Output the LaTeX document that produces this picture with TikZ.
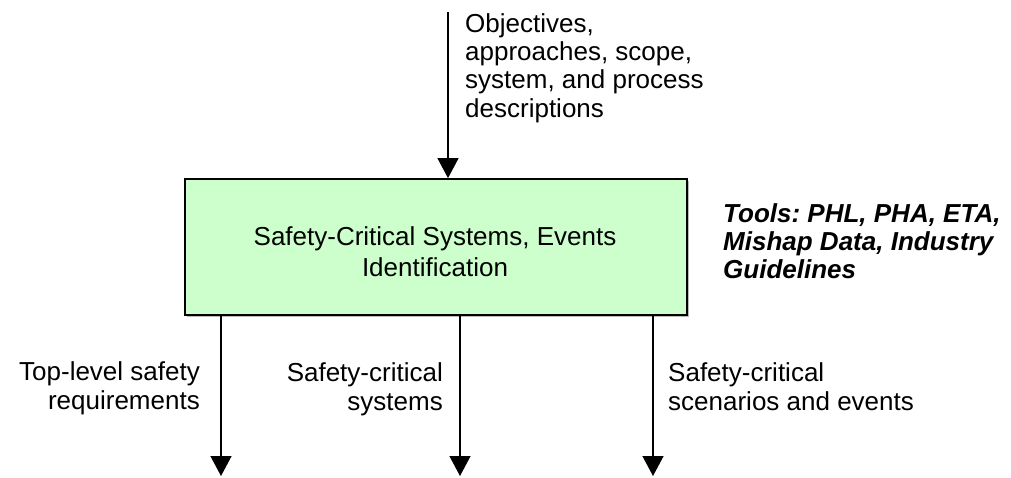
\documentclass[tikz,border=0pt]{standalone}
\usepackage{fontspec}
\setmainfont{Liberation Sans}
\frenchspacing
\usetikzlibrary{arrows.meta}
\definecolor{boxgreen}{HTML}{CCFFCC}
\tikzset{
  lbl/.style={inner sep=0pt, font=\fontsize{26}{28.3}\selectfont\frenchspacing},
  flowarrow/.style={line width=1.3pt, -{Triangle[width=21pt,length=20pt]}},
  procbox/.style={draw=black, line width=1.8pt, fill=boxgreen, minimum width=502pt, minimum height=136pt, inner sep=0pt}
}
\begin{document}
\begin{tikzpicture}[x=1pt,y=-1pt]
\useasboundingbox (0,0) rectangle (1011,477);
% shadow
\fill[gray!55] (187,181) rectangle (689,317);
\node[procbox] (box) at (436,247) {};
\node[lbl, anchor=base, align=center, font=\fontsize{26}{31}\selectfont\frenchspacing] (boxlab) at (435,276) {Safety-Critical Systems, Events\\Identification};
% input
\coordinate (in) at (448,12);
\draw[flowarrow] (in) -- (in |- box.north);
\node[lbl, anchor=base west, align=left] (inlab) at (465,117) {Objectives,\\approaches, scope,\\system, and process\\descriptions};
% tools
\node[lbl, anchor=base west, align=left, font=\fontsize{26}{28}\selectfont\bfseries\itshape\frenchspacing] (tools) at (723,278) {Tools: PHL, PHA, ETA,\\Mishap Data, Industry\\Guidelines};
% outputs
\coordinate (o1) at (221,476);
\coordinate (o2) at (460,476);
\coordinate (o3) at (653,476);
\draw[flowarrow] (o1 |- box.south) -- (o1);
\draw[flowarrow] (o2 |- box.south) -- (o2);
\draw[flowarrow] (o3 |- box.south) -- (o3);
\node[lbl, anchor=base east, align=right] (l1) at (200,409) {Top-level safety\\requirements};
\node[lbl, anchor=base east, align=right] (l2) at (443,410) {Safety-critical\\systems};
\node[lbl, anchor=base west, align=left] (l3) at (668,410) {Safety-critical\\scenarios and events};
\end{tikzpicture}
\end{document}
